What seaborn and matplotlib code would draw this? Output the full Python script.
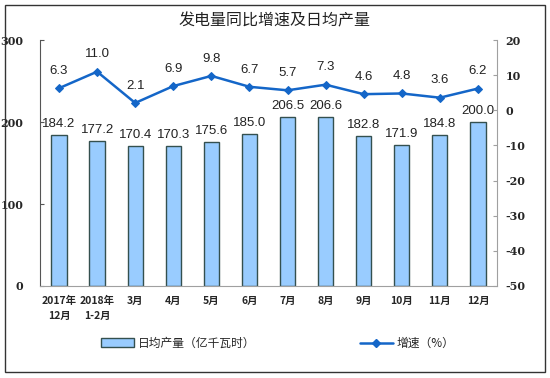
import pandas as pd
import matplotlib.pyplot as plt
import seaborn as sns
from matplotlib.patches import Rectangle
from matplotlib.lines import Line2D
from matplotlib.patches import Patch

# Data
months = ['2017年\n12月', '2018年\n1-2月', '3月', '4月', '5月', '6月',
          '7月', '8月', '9月', '10月', '11月', '12月']
daily_output = [184.2, 177.2, 170.4, 170.3, 175.6, 185.0,
                206.5, 206.6, 182.8, 171.9, 184.8, 200.0]
growth = [6.3, 11.0, 2.1, 6.9, 9.8, 6.7, 5.7, 7.3, 4.6, 4.8, 3.6, 6.2]

df = pd.DataFrame({'Month': months, 'Output': daily_output, 'Growth': growth})

sns.set_style('white')
plt.rcParams['font.family'] = ['Noto Sans CJK SC', 'DejaVu Sans']
plt.rcParams['axes.unicode_minus'] = False

bar_color = '#99CCFF'
edge_color = '#34504F'
line_color = '#1466C8'
axis_gray = '#A0A0A0'

fig = plt.figure(figsize=(5.5, 3.78), dpi=100)
ax = fig.add_axes([0.0727, 0.2434, 0.8309, 0.6506])

sns.barplot(data=df, x='Month', y='Output', color=bar_color, width=0.4,
            edgecolor=edge_color, linewidth=1.0, saturation=1, ax=ax)
ax.set_ylim(0, 300)
ax.set_yticks([0, 100, 200, 300])
ax.set_xlim(-0.5, len(months) - 0.5)
ax.set_xlabel('')
ax.set_ylabel('')
for i, v in enumerate(daily_output):
    ax.text(i, v + 6, f'{v:.1f}', ha='center', va='bottom', fontsize=9.5,
            color='#222222', family='Liberation Sans')

ax2 = ax.twinx()
sns.lineplot(data=df, x='Month', y='Growth', color=line_color, marker='D',
             markersize=4.5, markeredgecolor=line_color, linewidth=1.8,
             sort=False, ax=ax2)
ax2.set_ylim(-50, 20)
ax2.set_yticks(range(-50, 21, 10))
ax2.set_ylabel('')
for i, v in enumerate(growth):
    ax2.text(i, v + 3.2, f'{v:.1f}', ha='center', va='bottom', fontsize=9.5,
             color='#222222', family='Liberation Sans')

# spines
for a in (ax, ax2):
    a.spines['top'].set_visible(False)
ax.spines['right'].set_visible(False)
ax.spines['left'].set_color('#555555')
ax.spines['bottom'].set_color(axis_gray)
ax2.spines['left'].set_visible(False)
ax2.spines['bottom'].set_visible(False)
ax2.spines['right'].set_color(axis_gray)

ax.tick_params(axis='y', direction='in', length=3, color='#555555',
               labelsize=8, pad=12)
ax.tick_params(axis='x', length=0, labelsize=7.5, pad=7)
ax2.tick_params(axis='y', direction='in', length=3, color=axis_gray,
                labelsize=8, pad=6)
ax.set_xticks([i + 0.5 for i in range(len(months) - 1)], minor=True)
ax.tick_params(axis='x', which='minor', direction='out', length=2.5,
               color=axis_gray)
for lbl in ax.get_yticklabels() + ax2.get_yticklabels():
    lbl.set_fontweight('bold')
    lbl.set_family('DejaVu Serif')
for lbl in ax.get_xticklabels():
    lbl.set_fontweight('bold')
    lbl.set_linespacing(1.6)

fig.text(0.5, 0.945, '发电量同比增速及日均产量', ha='center', va='center',
         fontsize=11.5, color='#222222')

# legends
h1 = Patch(facecolor=bar_color, edgecolor=edge_color, linewidth=1.0)
h2 = Line2D([0], [0], color=line_color, marker='D', markersize=4.5,
            linewidth=1.8)
fig.legend([h1], ['日均产量（亿千瓦时）'], loc='center left',
           bbox_to_anchor=(0.165, 0.092), frameon=False, fontsize=8.5,
           handlelength=2.8, handleheight=0.7, handletextpad=0.3)
fig.legend([h2], ['增速（%）'], loc='center left',
           bbox_to_anchor=(0.635, 0.092), frameon=False, fontsize=8.5,
           handlelength=2.8, handletextpad=0.3)

# outer border
fig.patches.append(Rectangle((0.009, 0.015), 0.982, 0.972,
                             transform=fig.transFigure, fill=False,
                             edgecolor='#333333', linewidth=1.0))

fig.savefig('out.png', dpi=100)
